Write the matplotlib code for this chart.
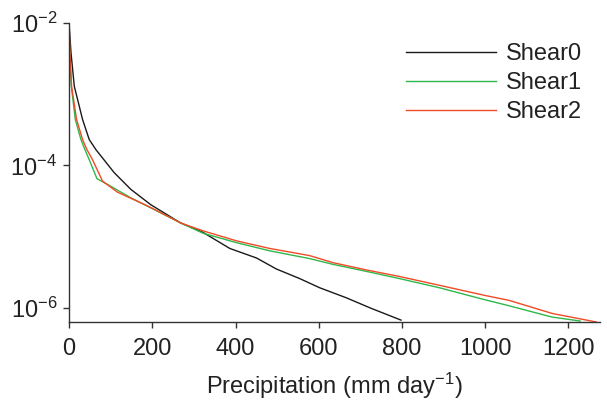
import matplotlib
matplotlib.use("Agg")
import matplotlib.pyplot as plt
from matplotlib.ticker import FixedLocator, NullLocator

plt.rcParams['font.family'] = ['Liberation Sans', 'DejaVu Sans']
plt.rcParams['mathtext.fontset'] = 'custom'
plt.rcParams['mathtext.rm'] = 'Liberation Sans'
plt.rcParams['mathtext.it'] = 'Liberation Sans:italic'

# precipitation (mm/day) and probability density
shear0_x = [0, 4.8, 12.7, 32.6, 48.6, 64.7, 108.5, 148.5, 196.4, 268.3, 322.4,
            386.3, 450.3, 498.2, 554, 602, 666, 726, 797.6]
shear0_y = [1.0e-2, 3.8e-3, 1.29e-3, 4.4e-4, 2.3e-4, 1.66e-4, 7.9e-5, 4.6e-5,
            2.8e-5, 1.55e-5, 1.14e-5, 6.8e-6, 5.0e-6, 3.5e-6, 2.57e-6, 1.91e-6,
            1.38e-6, 9.8e-7, 6.7e-7]

shear1_x = [0, 1.5, 5.5, 15.1, 28.7, 38.3, 48.6, 67.1, 92.5, 148.5, 228.3,
            276.2, 322.4, 402.4, 482.2, 578, 633.8, 721.7, 793.5, 889.3, 1000,
            1056, 1160, 1228]
shear1_y = [1.0e-2, 3.8e-3, 1.29e-3, 4.4e-4, 2.3e-4, 1.66e-4, 1.2e-4, 6.5e-5,
            5.4e-5, 3.5e-5, 2.04e-5, 1.48e-5, 1.11e-5, 8.2e-6, 6.3e-6, 4.9e-6,
            4.07e-6, 3.17e-6, 2.57e-6, 1.91e-6, 1.29e-6, 1.07e-6, 7.4e-7,
            6.5e-7]

shear2_x = [0, 2, 6.2, 18.2, 32.6, 43.1, 56.5, 80.5, 116.4, 188.3, 268.3,
            322.4, 402.4, 482.2, 578, 633.8, 713.8, 793.5, 889.3, 1001, 1057,
            1161, 1267]
shear2_y = [1.0e-2, 3.8e-3, 1.29e-3, 4.4e-4, 2.3e-4, 1.66e-4, 1.2e-4, 6.0e-5,
            4.2e-5, 2.7e-5, 1.55e-5, 1.2e-5, 8.7e-6, 6.8e-6, 5.4e-6, 4.3e-6,
            3.4e-6, 2.75e-6, 2.07e-6, 1.48e-6, 1.27e-6, 8.3e-7, 6.3e-7]

x_ticks = [0, 200, 400, 600, 800, 1000, 1200]
y_ticks = [1e-6, 1e-4, 1e-2]

fig = plt.figure(figsize=(6.07, 4.09), dpi=100)
ax = fig.add_axes([0.1137, 0.2127, 0.8743, 0.7311])

ax.plot(shear0_x, shear0_y, color='#1a1a1a', lw=1.0, label='Shear0')
ax.plot(shear1_x, shear1_y, color='#2eb84a', lw=1.0, label='Shear1')
ax.plot(shear2_x, shear2_y, color='#f04a26', lw=1.0, label='Shear2')

ax.set_yscale('log')
ax.set_xlim(0, 1275)
ax.set_ylim(6.3e-7, 1e-2)
ax.xaxis.set_major_locator(FixedLocator(x_ticks))
ax.yaxis.set_major_locator(FixedLocator(y_ticks))
ax.yaxis.set_minor_locator(NullLocator())
ax.xaxis.set_minor_locator(NullLocator())

for s in ['top', 'right']:
    ax.spines[s].set_visible(False)
for s in ['left', 'bottom']:
    ax.spines[s].set_color('#333333')
    ax.spines[s].set_linewidth(1.0)

ax.tick_params(axis='both', labelsize=17, length=4.5, width=1.0,
               color='#333333', labelcolor='#222222')
ax.tick_params(axis='x', pad=7)
ax.tick_params(axis='y', pad=4)

ax.set_xlabel('Precipitation (mm day$^{-1}$)', fontsize=17, color='#222222',
              labelpad=8)

leg = ax.legend(loc='upper left', bbox_to_anchor=(406 / 607, 1 - 43 / 409),
                bbox_transform=fig.transFigure, frameon=False, fontsize=17,
                handlelength=3.8, handletextpad=0.45, labelspacing=0.3,
                borderpad=0, borderaxespad=0)
for t in leg.get_texts():
    t.set_color('#222222')

fig.savefig('out.png', dpi=100)
